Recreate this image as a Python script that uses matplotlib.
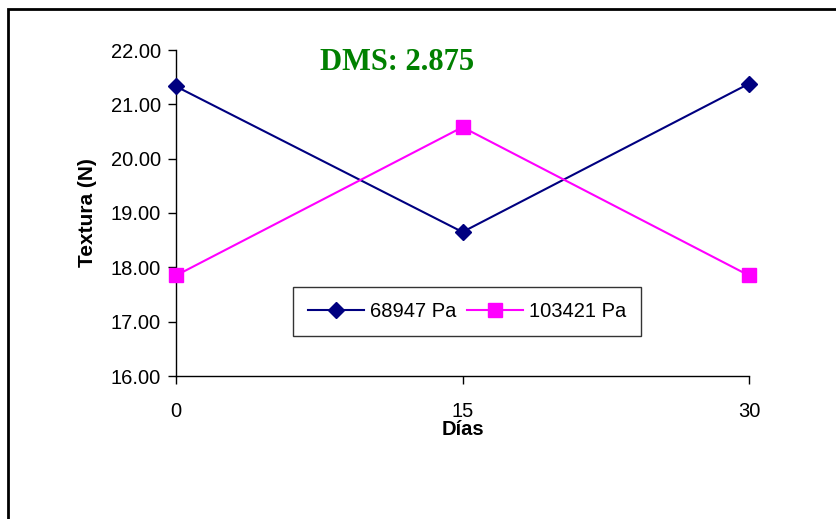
import matplotlib
matplotlib.use('Agg')
import matplotlib.pyplot as plt
from matplotlib.patches import Rectangle

# data
dias = [0, 15, 30]
pa_68947 = [21.33, 18.65, 21.38]
pa_103421 = [17.85, 20.58, 17.85]
labels = ['68947 Pa', '103421 Pa']
yticks = [16, 17, 18, 19, 20, 21, 22]

plt.rcParams['font.family'] = ['Liberation Sans', 'DejaVu Sans']

W, H = 836, 519
fig = plt.figure(figsize=(W / 100, H / 100), dpi=100)
ax = fig.add_axes([176 / W, 1 - 376 / H, (749 - 176) / W, (376 - 50) / H])

ax.plot(dias, pa_68947, color='#000080', lw=1.5, marker='D', ms=8,
        label=labels[0], clip_on=False, zorder=3)
ax.plot(dias, pa_103421, color='#FF00FF', lw=1.5, marker='s', ms=10,
        label=labels[1], clip_on=False, zorder=3)

ax.set_xlim(0, 30)
ax.set_ylim(16, 22)
ax.set_xticks(dias)
ax.set_yticks(yticks)
ax.set_yticklabels([f'{v:.2f}' for v in yticks])
ax.tick_params(axis='both', labelsize=14.5, direction='out', length=6, width=1)
ax.tick_params(axis='x', pad=13)
ax.tick_params(axis='y', pad=5)
for s in ['top', 'right']:
    ax.spines[s].set_visible(False)
for s in ['left', 'bottom']:
    ax.spines[s].set_linewidth(1)

ax.set_xlabel('Días', fontsize=14.5, fontweight='bold', labelpad=-1)
ax.set_ylabel('Textura (N)', fontsize=15, fontweight='bold', labelpad=10)

fig.text(397 / W, 1 - 62 / H, 'DMS: 2.875', family='Liberation Serif',
         fontsize=22, fontweight='bold', color='#008000', ha='center', va='center')

leg = ax.legend(loc='center', bbox_to_anchor=(0.508, 0.199), ncol=2, fontsize=14.5,
                frameon=True, fancybox=False, shadow=False, handlelength=2.8,
                columnspacing=0.5, handletextpad=0.3, borderpad=0.75)
leg.get_frame().set_edgecolor('black')
leg.get_frame().set_linewidth(1)

# outer chart border
fig.patches.append(Rectangle((8 / W, -0.2), 1.2, 1.2 - 9 / H, transform=fig.transFigure,
                             fill=False, edgecolor='black', lw=2))

fig.savefig('out.png', dpi=100)
